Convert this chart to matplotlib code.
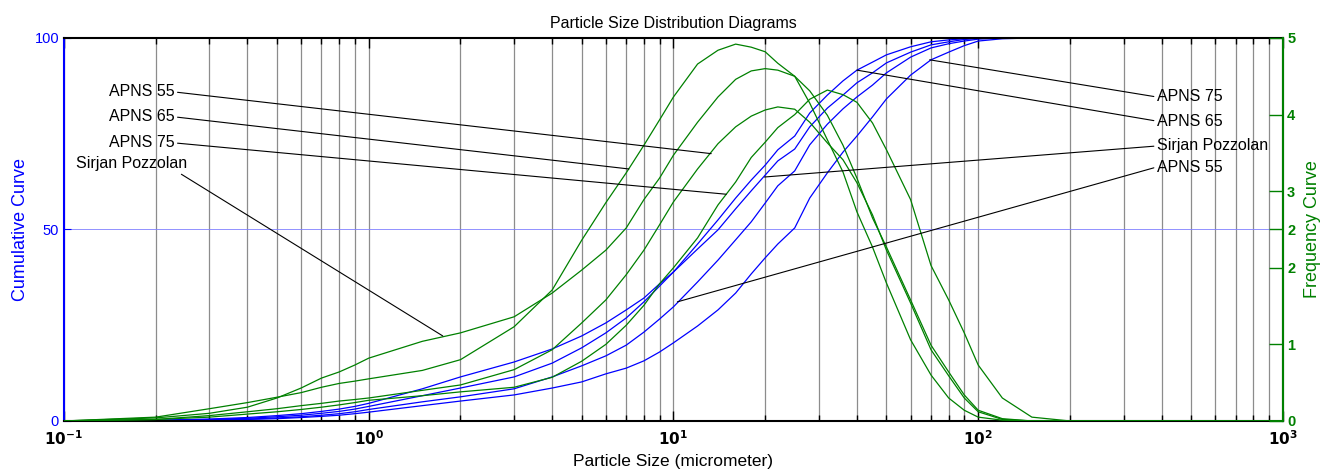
import numpy as np
import matplotlib
matplotlib.use("Agg")
import matplotlib.pyplot as plt
from matplotlib.ticker import FuncFormatter, LogLocator, NullFormatter

plt.rcParams['font.family'] = ['Liberation Sans', 'DejaVu Sans']

# particle sizes (micrometer)
sizes = [0.1, 0.2, 0.3, 0.4, 0.5, 0.6, 0.7, 0.8, 0.9, 1, 1.5, 2, 3, 4, 5, 6, 7, 8, 9, 10,
         12, 14, 16, 18, 20, 22, 25, 28, 32, 36, 40, 45, 50, 60, 70, 80, 90, 100, 120, 150, 200, 1000]

# cumulative curves (%)
cum_apns65 = [0, 0.2, 0.5, 0.9, 1.4, 1.9, 2.5, 3.1, 3.8, 4.6, 8.4, 11.5, 15.4, 18.8, 22.2, 25.6, 29.0, 32.1, 35.8, 38.9,
              46.2, 52.5, 58.2, 62.9, 66.8, 70.8, 74.4, 80.4, 85.1, 88.8, 91.6, 93.7, 95.6, 97.7, 99.0, 99.5, 99.8, 100,
              100, 100, 100, 100]
cum_sirjan = [0, 0.1, 0.4, 0.7, 1.1, 1.5, 2.0, 2.5, 3.1, 3.8, 6.6, 8.6, 11.5, 15.1, 19.1, 23.0, 26.9, 31.1, 35.2, 38.9,
              44.9, 49.9, 55.4, 60.1, 64.2, 67.9, 71.0, 76.8, 81.7, 85.1, 88.3, 90.9, 93.5, 96.3, 98.2, 99.0, 99.6, 99.9,
              100, 100, 100, 100]
cum_apns55 = [0, 0.1, 0.3, 0.5, 0.8, 1.1, 1.5, 1.9, 2.4, 3.0, 5.0, 6.3, 8.4, 11.5, 14.4, 17.0, 19.8, 23.2, 26.6, 29.8,
              36.3, 42.0, 47.3, 52.0, 56.9, 61.4, 65.3, 72.1, 77.5, 81.5, 84.6, 87.7, 90.9, 95.0, 97.4, 98.5, 99.2, 99.7,
              100, 100, 100, 100]
cum_apns75 = [0, 0.05, 0.2, 0.4, 0.6, 0.9, 1.2, 1.5, 1.9, 2.3, 4.0, 5.2, 6.8, 8.6, 10.2, 12.3, 13.8, 15.7, 18.0, 20.4,
              24.8, 29.0, 33.4, 38.4, 42.6, 46.2, 50.4, 58.2, 64.8, 70.2, 74.4, 79.4, 84.1, 90.3, 94.3, 96.3, 98.0, 99.2,
              99.8, 100, 100, 100]

# frequency curves
freq_apns65 = [0, 0.05, 0.16, 0.24, 0.31, 0.37, 0.44, 0.49, 0.52, 0.55, 0.66, 0.80, 1.23, 1.71, 2.36, 2.85, 3.24, 3.60,
               3.93, 4.23, 4.66, 4.84, 4.92, 4.88, 4.82, 4.67, 4.50, 4.15, 3.67, 3.25, 2.73, 2.27, 1.80, 1.06, 0.60, 0.30,
               0.14, 0.05, 0.01, 0, 0, 0]
freq_sirjan = [0, 0.04, 0.10, 0.18, 0.30, 0.43, 0.56, 0.64, 0.73, 0.82, 1.04, 1.15, 1.36, 1.67, 1.97, 2.23, 2.52, 2.89,
               3.17, 3.47, 3.90, 4.23, 4.46, 4.57, 4.60, 4.58, 4.50, 4.31, 3.99, 3.60, 3.17, 2.65, 2.27, 1.58, 0.99, 0.64,
               0.34, 0.14, 0.03, 0, 0, 0]
freq_apns55 = [0, 0.02, 0.07, 0.12, 0.16, 0.20, 0.23, 0.26, 0.28, 0.30, 0.40, 0.47, 0.67, 0.93, 1.28, 1.58, 1.91, 2.23,
               2.56, 2.86, 3.29, 3.62, 3.84, 3.98, 4.06, 4.10, 4.07, 3.90, 3.63, 3.41, 3.11, 2.69, 2.23, 1.54, 0.93, 0.59,
               0.30, 0.12, 0.02, 0, 0, 0]
freq_apns75 = [0, 0.02, 0.05, 0.09, 0.12, 0.15, 0.18, 0.21, 0.24, 0.27, 0.33, 0.38, 0.44, 0.57, 0.78, 1.00, 1.25, 1.51,
               1.79, 2.00, 2.39, 2.82, 3.12, 3.44, 3.64, 3.83, 4.00, 4.20, 4.32, 4.26, 4.16, 3.89, 3.54, 2.89, 2.03, 1.58,
               1.15, 0.73, 0.30, 0.05, 0, 0]

right_ticks = [0, 1, 2, 2.5, 3, 4, 5]
right_ticklabels = ['0', '1', '2', '2', '3', '4', '5']

# (label, text x, text y [left axis], target x, target y [right axis], line start on text)
freq_notes = [('APNS 55', 0.231, 85.9, 13.3, 3.49, (1, 0.5)),
              ('APNS 65', 0.231, 79.4, 7.14, 3.29, (1, 0.5)),
              ('APNS 75', 0.231, 72.6, 14.9, 2.96, (1, 0.5)),
              ('Sirjan Pozzolan', 0.253, 67.1, 1.75, 1.11, (0.9, 0.05))]
# (label, text x, text y, target x, target y [left axis])
cum_notes = [('APNS 75', 385, 84.6, 69.3, 94.3),
             ('APNS 65', 385, 78.3, 40.0, 91.6),
             ('Sirjan Pozzolan', 385, 71.8, 19.9, 63.7),
             ('APNS 55', 385, 66.3, 10.3, 31.1)]

fig = plt.figure(figsize=(13.24, 4.73), dpi=100)
ax = fig.add_axes([0.0483, 0.110, 0.9207, 0.8097])
ax2 = ax.twinx()

for c in (cum_apns65, cum_sirjan, cum_apns55, cum_apns75):
    ax.plot(sizes, c, color='#0000ff', lw=0.9)
for f in (freq_apns65, freq_sirjan, freq_apns55, freq_apns75):
    ax2.plot(sizes, f, color='#008000', lw=0.9)

ax.set_xscale('log')
ax.set_xlim(0.1, 1000)
ax.set_ylim(0, 100)
ax2.set_ylim(0, 5)

ax.xaxis.set_major_locator(LogLocator(base=10, numticks=10))
ax.xaxis.set_minor_locator(LogLocator(base=10, subs=np.arange(2, 10), numticks=50))
ax.xaxis.set_minor_formatter(NullFormatter())
ax.xaxis.set_major_formatter(FuncFormatter(lambda v, p: r'$\mathbf{10^{%d}}$' % round(np.log10(v))))
ax.tick_params(axis='x', which='major', direction='in', top=True, length=7, width=1, labelsize=11, pad=6)
ax.tick_params(axis='x', which='minor', direction='in', top=True, length=4, width=1)
ax.grid(axis='x', which='both', color='#8c8c8c', lw=0.9)
ax.set_yticks([0, 50, 100])
ax.yaxis.grid(True, color='#8080ff', lw=0.6)
ax.tick_params(axis='y', colors='#0000ff', direction='in', length=5, labelsize=10.5)

ax2.set_yticks(right_ticks)
ax2.set_yticklabels(right_ticklabels, fontweight='bold')
ax2.tick_params(axis='y', colors='#008000', direction='in', length=10, width=1, labelsize=10.5, pad=3)

ax.spines['left'].set_color('#0000ff')
ax.spines['bottom'].set_color('black')
ax.spines['top'].set_color('black')
for s in ('left', 'bottom', 'top', 'right'):
    ax.spines[s].set_linewidth(1.5)
ax2.spines['right'].set_color('#008000')
ax2.spines['right'].set_linewidth(1.5)
for s in ('left', 'bottom', 'top'):
    ax2.spines[s].set_visible(False)

ax.set_title('Particle Size Distribution Diagrams', fontsize=11.5, pad=7)
ax.set_xlabel('Particle Size (micrometer)', fontsize=12.5, labelpad=4)
ax.set_ylabel('Cumulative Curve', color='#0000ff', fontsize=13, labelpad=4)
ax2.set_ylabel('Frequency Curve', color='#008000', fontsize=13, labelpad=6)

for lab, tx, ty, px, py, rp in freq_notes:
    ax2.annotate(lab, xy=(px, py), xycoords=ax2.transData, xytext=(tx, ty), textcoords=ax.transData,
                 ha='right', va='center', fontsize=11.5,
                 arrowprops=dict(arrowstyle='-', color='black', lw=0.8, shrinkA=0, shrinkB=0, relpos=rp))
for lab, tx, ty, px, py in cum_notes:
    ax2.annotate(lab, xy=(px, py), xycoords=ax.transData, xytext=(tx, ty), textcoords=ax.transData,
                 ha='left', va='center', fontsize=11.5,
                 arrowprops=dict(arrowstyle='-', color='black', lw=0.8, shrinkA=0, shrinkB=0, relpos=(0, 0.5)))

fig.savefig('out.png', dpi=100)
